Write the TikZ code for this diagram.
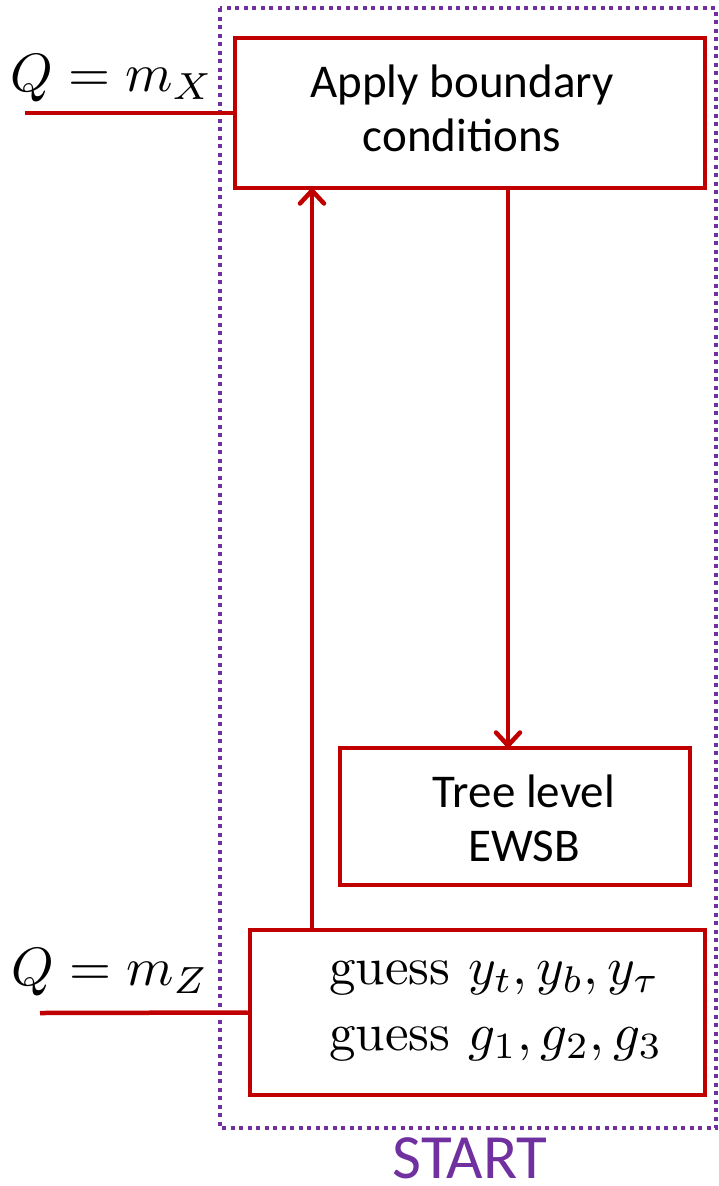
\documentclass[tikz,border=0pt]{standalone}
\usepackage{graphicx}
\usepackage{fontspec}
\newfontfamily\calib{Carlito}
\usetikzlibrary{arrows.meta}
\definecolor{boxred}{HTML}{C00000}
\definecolor{startpurple}{HTML}{7030A0}
\tikzset{
  redbox/.style={draw=boxred, line width=4.5pt, rectangle, inner sep=0pt},
  redline/.style={draw=boxred, line width=4.5pt},
  redarrow/.style={draw=boxred, line width=4.5pt, -{Straight Barb[length=13pt,width=24pt,line cap=round,line join=round]}},
  boxtext/.style={font=\calib\fontsize{47}{54}\selectfont, align=center, inner sep=0pt},
  mathlabel/.style={inner sep=0pt},
  region/.style={draw=startpurple, line width=3.5pt, dash pattern=on 4pt off 4.5pt}
}
\begin{document}
\begin{tikzpicture}[x=1pt,y=-1pt]
\useasboundingbox (0,0) rectangle (718,1186);
% dotted start region
\draw[region] (220,8) rectangle (716,1128);
\node[font=\calib\fontsize{63}{70}\selectfont, text=startpurple, inner sep=0pt, anchor=base] (start) at (470,1178) {START};
% boxes
\node[redbox, minimum width=470pt, minimum height=150pt] (top) at (470,113) {};
\node[boxtext] (toptext) at (462,108) {Apply boundary\\conditions};
\node[redbox, minimum width=350pt, minimum height=137pt] (tree) at (515,816.5) {};
\node[boxtext] (treetext) at (524,818) {Tree level\\EWSB};
\node[redbox, minimum width=455pt, minimum height=165pt] (guess) at (477.5,1012.5) {};
\node[font=\fontsize{10}{66}\selectfont, align=left, inner sep=0pt] (guesstext) at (496,1011)
  {\scalebox{5.3}{$\mathrm{guess}\ y_t, y_b, y_\tau$}\\\scalebox{5.3}{$\mathrm{guess}\ g_1, g_2, g_3$}};
% scale labels and lines
\node[mathlabel] (qx) at (112,78) {\scalebox{5.4}{$Q=m_X$}};
\node[mathlabel] (qz) at (110,972) {\scalebox{5.4}{$Q=m_Z$}};
\coordinate (qxend) at (25,113);
\coordinate (qzend) at (40,1013);
\draw[redline] (qxend) -- (top.west);
\draw[redline] (qzend) -- (guess.west);
% arrows
\coordinate (upx) at (312,0);
\coordinate (downx) at (508,0);
\draw[redarrow] (guess.north -| upx) -- ([yshift=2pt]top.south -| upx);
\draw[redarrow] (top.south -| downx) -- ([yshift=-2pt]tree.north -| downx);
\end{tikzpicture}
\end{document}
